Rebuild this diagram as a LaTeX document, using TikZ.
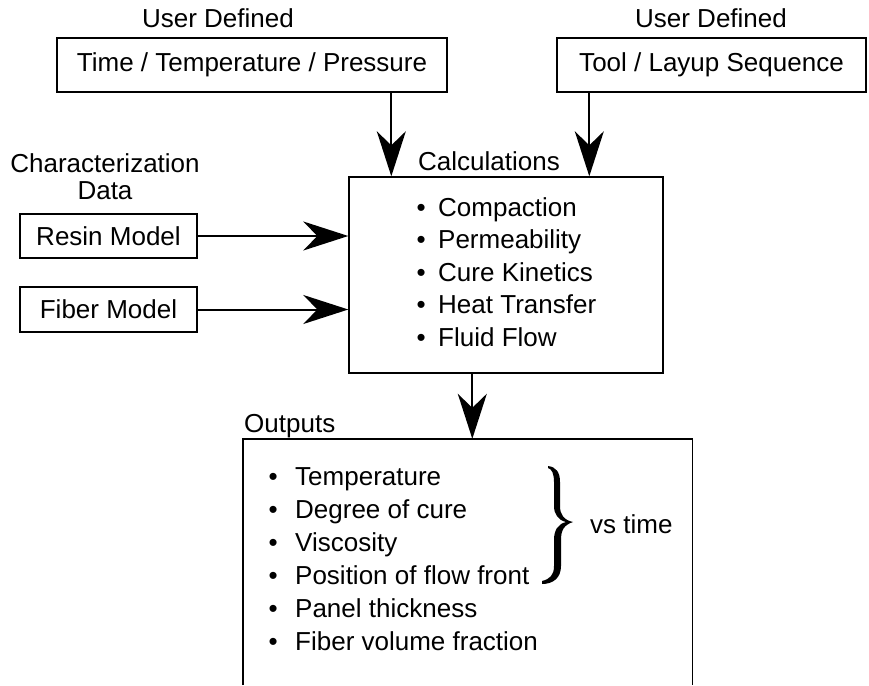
\documentclass[tikz,border=0pt]{standalone}
\usepackage{fontspec}
\setmainfont{Liberation Sans}
\usetikzlibrary{arrows.meta}
\begin{document}
\begin{tikzpicture}[x=1pt,y=-1pt,
  txt/.style={font=\fontsize{26}{31}\selectfont, inner sep=0pt},
  boxstyle/.style={draw, line width=1.4pt, txt},
  arr/.style={line width=2pt, -{Stealth[length=45pt,width=29pt,inset=14pt]}}]
\useasboundingbox (0,0) rectangle (869,685);

% input boxes and their captions
\node[txt, anchor=base] (ud1) at (218,28) {User Defined};
\node[txt, anchor=base] (ud2) at (711,28) {User Defined};
\node[boxstyle, minimum width=390pt, minimum height=54pt] (ttp) at (252,65) {Time / Temperature / Pressure};
\node[boxstyle, minimum width=309pt, minimum height=54pt] (tls) at (711.5,65) {Tool / Layup Sequence};

\node[txt, anchor=base] (chr) at (105,172) {Characterization};
\node[txt, anchor=base] (dat) at (105,199) {Data};
\node[boxstyle, minimum width=177pt, minimum height=44pt] (resin) at (108.5,236) {Resin Model};
\node[boxstyle, minimum width=177pt, minimum height=45pt] (fiber) at (108.5,309.5) {Fiber Model};

% calculation block
\node[txt, anchor=base] (calclbl) at (489,170) {Calculations};
\node[boxstyle, minimum width=314pt, minimum height=196pt] (calc) at (506,275) {};
\foreach \t [count=\i from 0] in {Compaction, Permeability, Cure Kinetics, Heat Transfer, Fluid Flow}
  \node[txt, anchor=base west] (calc-\i) at (416.5,{216+32.5*\i}) {\textbullet\hspace{12.4pt}\t};

% outputs block (open at the bottom)
\node[txt, anchor=base west] (outlbl) at (244,432) {Outputs};
\node[minimum width=449pt, minimum height=300pt, inner sep=0pt] (outbox) at (467.5,589) {};
\coordinate (pagebottom) at (0,685);
\draw[line width=1.4pt] (outbox.north west |- pagebottom) -- (outbox.north west)
  -- (outbox.north east) -- (outbox.north east |- pagebottom);
\foreach \t [count=\i from 0] in {Temperature, Degree of cure, Viscosity, Position of flow front, Panel thickness, Fiber volume fraction}
  \node[txt, anchor=base west] (out-\i) at (268.5,{485+33*\i}) {\textbullet\hspace{17.4pt}\t};

% brace grouping the time-dependent outputs
\fill (548,466) .. controls (556,467) and (560,472) .. (560,482)
  -- (560,506) .. controls (560,515) and (564,520) .. (573,522)
  .. controls (564,525) and (561,530) .. (561,540)
  -- (561,566) .. controls (561,578) and (553,584) .. (542,584)
  -- (542,581) .. controls (550,579) and (554,575) .. (554,566)
  -- (554,540) .. controls (554,530) and (558,524) .. (566,522)
  .. controls (558,520) and (554,514) .. (554,506)
  -- (554,482) .. controls (554,474) and (552,469) .. (548,468) -- cycle;
\node[txt, anchor=base west] (vstime) at (590,533) {vs time};

% connectors
\coordinate (c1) at ([xshift=43pt]calc.north west);
\coordinate (c2) at ([xshift=241pt]calc.north west);
\coordinate (c3) at ([xshift=124pt]calc.south west);
\draw[arr] (ttp.south -| c1) -- (c1);
\draw[arr] (tls.south -| c2) -- (c2);
\draw[arr] (resin.east) -- (calc.west |- resin.east);
\draw[arr] (fiber.east) -- (calc.west |- fiber.east);
\draw[arr] (c3) -- (c3 |- outbox.north);
\end{tikzpicture}
\end{document}
